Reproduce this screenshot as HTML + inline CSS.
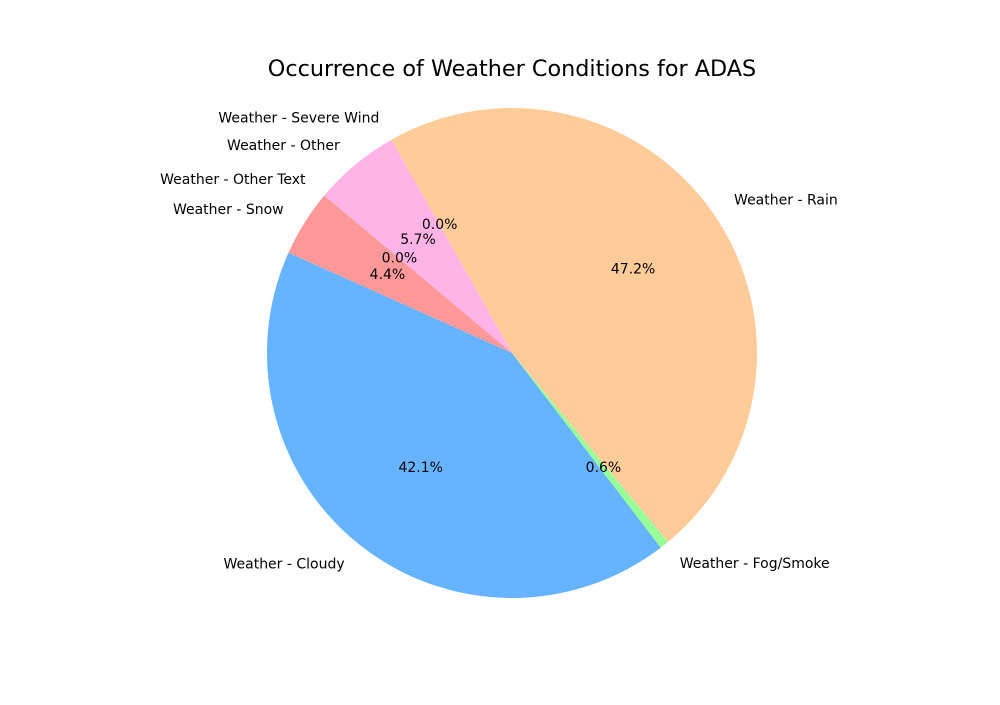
<!DOCTYPE html>
<html><head><meta charset="utf-8"><style>
body{margin:0;background:#fff;}
svg text{font-family:"DejaVu Sans","Liberation Sans",sans-serif;}
</style></head><body>
<svg id="chart" width="1000" height="700" viewBox="0 0 1000 700" xmlns="http://www.w3.org/2000/svg">
<rect width="1000" height="700" fill="#fff"/>
<text x="512" y="76" font-size="22.3" text-anchor="middle">Occurrence of Weather Conditions for ADAS</text>
<g id="slices"></g><g id="labels"></g>
</svg>
<script>
const categories = ["Weather - Snow","Weather - Cloudy","Weather - Fog/Smoke","Weather - Rain","Weather - Severe Wind","Weather - Other","Weather - Other Text"];
const values = [4.4, 42.1, 0.6, 47.2, 0.0, 5.7, 0.0];
const colors = ["#ff9999","#66b3ff","#99ff99","#ffcc99","#c2c2f0","#ffb3e6","#c4e17f"];
const cx=512, cy=353, r=245, start=140;
const NS="http://www.w3.org/2000/svg";
const total=values.reduce((a,b)=>a+b,0);
const gS=document.getElementById('slices'), gL=document.getElementById('labels');
let a=start;
function pt(ang,rad){const t=ang*Math.PI/180;return [cx+rad*Math.cos(t), cy-rad*Math.sin(t)];}
values.forEach((v,i)=>{
  const sweep=v/total*360, a2=a+sweep, mid=a+sweep/2;
  if(sweep>0){
    const p1=pt(a,r), p2=pt(a2,r);
    const path=document.createElementNS(NS,'path');
    path.setAttribute('d',`M${cx},${cy} L${p1[0]},${p1[1]} A${r},${r} 0 ${sweep>180?1:0} 0 ${p2[0]},${p2[1]} Z`);
    path.setAttribute('fill',colors[i]);
    
    
    gS.appendChild(path);
  }
  const lp=pt(mid,r*1.1);
  const t=document.createElementNS(NS,'text');
  t.setAttribute('x',lp[0]);t.setAttribute('y',lp[1]+4);
  t.setAttribute('font-size','14');
  t.setAttribute('text-anchor',Math.cos(mid*Math.PI/180)>=0?'start':'end');
  t.textContent=categories[i];
  
  
  gL.appendChild(t);
  const pp=pt(mid,r*0.6);
  const p=document.createElementNS(NS,'text');
  p.setAttribute('x',pp[0]);p.setAttribute('y',pp[1]+4);
  p.setAttribute('font-size','14');p.setAttribute('text-anchor','middle');
  p.textContent=(v/total*100).toFixed(1)+'%';
  
  
  gL.appendChild(p);
  a=a2;
});
</script>
</body></html>
